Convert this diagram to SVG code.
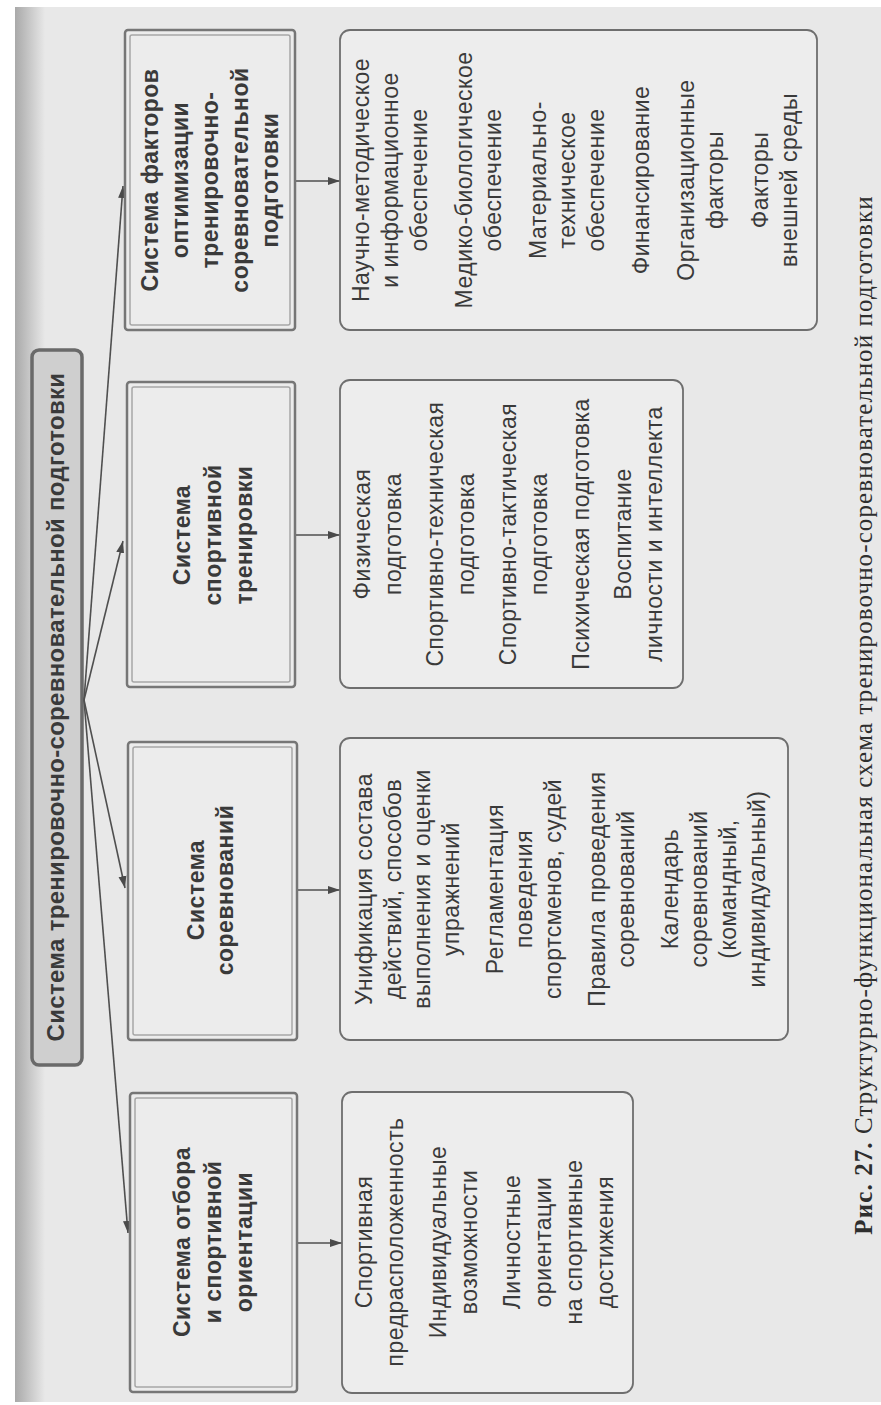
<svg xmlns="http://www.w3.org/2000/svg" width="881" height="1405" viewBox="0 0 881 1405">
<defs>
<linearGradient id="gut" x1="0" y1="0" x2="1" y2="0">
<stop offset="0" stop-color="#a9a9a9"/>
<stop offset="1" stop-color="#e8e8e8"/>
</linearGradient>
<marker id="ah" markerUnits="userSpaceOnUse" markerWidth="14" markerHeight="10" refX="12" refY="5" orient="auto">
<path d="M0,1 L12,5 L0,9 Z" fill="#4a4a4a"/>
</marker>
<style>
.t{font-family:"Liberation Sans",Arial,sans-serif;font-size:23px;fill:#3a3a3a;text-anchor:middle;letter-spacing:.5px}
.b{font-weight:bold}
.o{fill:#ececec;stroke:#767676;stroke-width:2.5}
.i{fill:none;stroke:#a6a6a6;stroke-width:1.5}
.r{fill:#ededed;stroke:#6e6e6e;stroke-width:1.8}
.c{fill:none;stroke:#4f4f4f;stroke-width:1.6}
.cap{font-family:"Liberation Serif","Times New Roman",serif;font-size:25px;fill:#2e2e2e;text-anchor:middle;letter-spacing:1.1px}
</style>
</defs>
<rect width="881" height="1405" fill="#ffffff"/>
<rect x="15" y="7" width="866" height="1395" fill="#e8e8e8"/>
<rect x="15" y="7" width="30" height="1395" fill="url(#gut)"/>

<g id="root">
<rect x="32" y="350" width="50" height="715" rx="7" fill="#cfcfcf" stroke="#6a6a6a" stroke-width="3.5"/>
<g transform="translate(0,707) rotate(-90)">
<text class="t b" x="0" y="64" style="font-size:24px;letter-spacing:.3px">Система тренировочно-соревновательной подготовки</text>
</g>
</g>

<g id="connectors">
<path class="c" d="M84,700 L123,186" marker-end="url(#ah)"/>
<path class="c" d="M84,700 L123,541" marker-end="url(#ah)"/>
<path class="c" d="M84,700 L125,888" marker-end="url(#ah)"/>
<path class="c" d="M84,700 L128,1233" marker-end="url(#ah)"/>
<path class="c" d="M295,181 H340" marker-end="url(#ah)"/>
<path class="c" d="M295,535 H340" marker-end="url(#ah)"/>
<path class="c" d="M297,890 H340" marker-end="url(#ah)"/>
<path class="c" d="M297,1243 H342" marker-end="url(#ah)"/>
</g>

<g id="factors-system">
<rect class="o" x="125" y="30" width="170" height="300" rx="3"/>
<rect class="i" x="130" y="35" width="160" height="290" rx="2"/>
<g transform="translate(0,180) rotate(-90)">
<text class="t b" x="0" y="158">Система факторов</text>
<text class="t b" x="0" y="188">оптимизации</text>
<text class="t b" x="0" y="218">тренировочно-</text>
<text class="t b" x="0" y="248">соревновательной</text>
<text class="t b" x="0" y="278">подготовки</text>
</g>
</g>

<g id="factors-items">
<rect class="r" x="340" y="30" width="477" height="300" rx="10"/>
<g transform="translate(0,180) rotate(-90)">
<text class="t" x="0" y="369">Научно-методическое</text>
<text class="t" x="0" y="398">и информационное</text>
<text class="t" x="0" y="427">обеспечение</text>
<text class="t" x="0" y="472">Медико-биологическое</text>
<text class="t" x="0" y="501">обеспечение</text>
<text class="t" x="0" y="546">Материально-</text>
<text class="t" x="0" y="575">техническое</text>
<text class="t" x="0" y="604">обеспечение</text>
<text class="t" x="0" y="649">Финансирование</text>
<text class="t" x="0" y="694">Организационные</text>
<text class="t" x="0" y="723">факторы</text>
<text class="t" x="0" y="768">Факторы</text>
<text class="t" x="0" y="797">внешней среды</text>
</g>
</g>

<g id="training-system">
<rect class="o" x="127" y="382" width="168" height="305" rx="3"/>
<rect class="i" x="132" y="387" width="158" height="295" rx="2"/>
<g transform="translate(0,535) rotate(-90)">
<text class="t b" x="0" y="190">Система</text>
<text class="t b" x="0" y="221">спортивной</text>
<text class="t b" x="0" y="252">тренировки</text>
</g>
</g>

<g id="training-items">
<rect class="r" x="340" y="380" width="343" height="308" rx="10"/>
<g transform="translate(0,534) rotate(-90)">
<text class="t" x="0" y="370">Физическая</text>
<text class="t" x="0" y="401">подготовка</text>
<text class="t" x="0" y="443">Спортивно-техническая</text>
<text class="t" x="0" y="474">подготовка</text>
<text class="t" x="0" y="516">Спортивно-тактическая</text>
<text class="t" x="0" y="547">подготовка</text>
<text class="t" x="0" y="589">Психическая подготовка</text>
<text class="t" x="0" y="631">Воспитание</text>
<text class="t" x="0" y="662">личности и интеллекта</text>
</g>
</g>

<g id="competition-system">
<rect class="o" x="128" y="742" width="169" height="298" rx="3"/>
<rect class="i" x="133" y="747" width="159" height="288" rx="2"/>
<g transform="translate(0,890) rotate(-90)">
<text class="t b" x="0" y="204">Система</text>
<text class="t b" x="0" y="233">соревнований</text>
</g>
</g>

<g id="competition-items">
<rect class="r" x="340" y="738" width="448" height="302" rx="10"/>
<g transform="translate(0,889) rotate(-90)">
<text class="t" x="0" y="372">Унификация состава</text>
<text class="t" x="0" y="401">действий, способов</text>
<text class="t" x="0" y="430">выполнения и оценки</text>
<text class="t" x="0" y="459">упражнений</text>
<text class="t" x="0" y="503">Регламентация</text>
<text class="t" x="0" y="532">поведения</text>
<text class="t" x="0" y="561">спортсменов, судей</text>
<text class="t" x="0" y="605">Правила проведения</text>
<text class="t" x="0" y="634">соревнований</text>
<text class="t" x="0" y="678">Календарь</text>
<text class="t" x="0" y="707">соревнований</text>
<text class="t" x="0" y="736">(командный,</text>
<text class="t" x="0" y="765">индивидуальный)</text>
</g>
</g>

<g id="selection-system">
<rect class="o" x="130" y="1093" width="167" height="299" rx="3"/>
<rect class="i" x="135" y="1098" width="157" height="289" rx="2"/>
<g transform="translate(0,1242) rotate(-90)">
<text class="t b" x="0" y="190">Система отбора</text>
<text class="t b" x="0" y="221">и спортивной</text>
<text class="t b" x="0" y="252">ориентации</text>
</g>
</g>

<g id="selection-items">
<rect class="r" x="342" y="1092" width="291" height="301" rx="10"/>
<g transform="translate(0,1242) rotate(-90)">
<text class="t" x="0" y="372">Спортивная</text>
<text class="t" x="0" y="403">предрасположенность</text>
<text class="t" x="0" y="446">Индивидуальные</text>
<text class="t" x="0" y="477">возможности</text>
<text class="t" x="0" y="520">Личностные</text>
<text class="t" x="0" y="551">ориентации</text>
<text class="t" x="0" y="582">на спортивные</text>
<text class="t" x="0" y="613">достижения</text>
</g>
</g>

<g id="caption" transform="translate(0,715) rotate(-90)">
<text class="cap" x="0" y="872"><tspan font-weight="bold">Рис. 27.</tspan> Структурно-функциональная схема тренировочно-соревновательной подготовки</text>
</g>
</svg>
